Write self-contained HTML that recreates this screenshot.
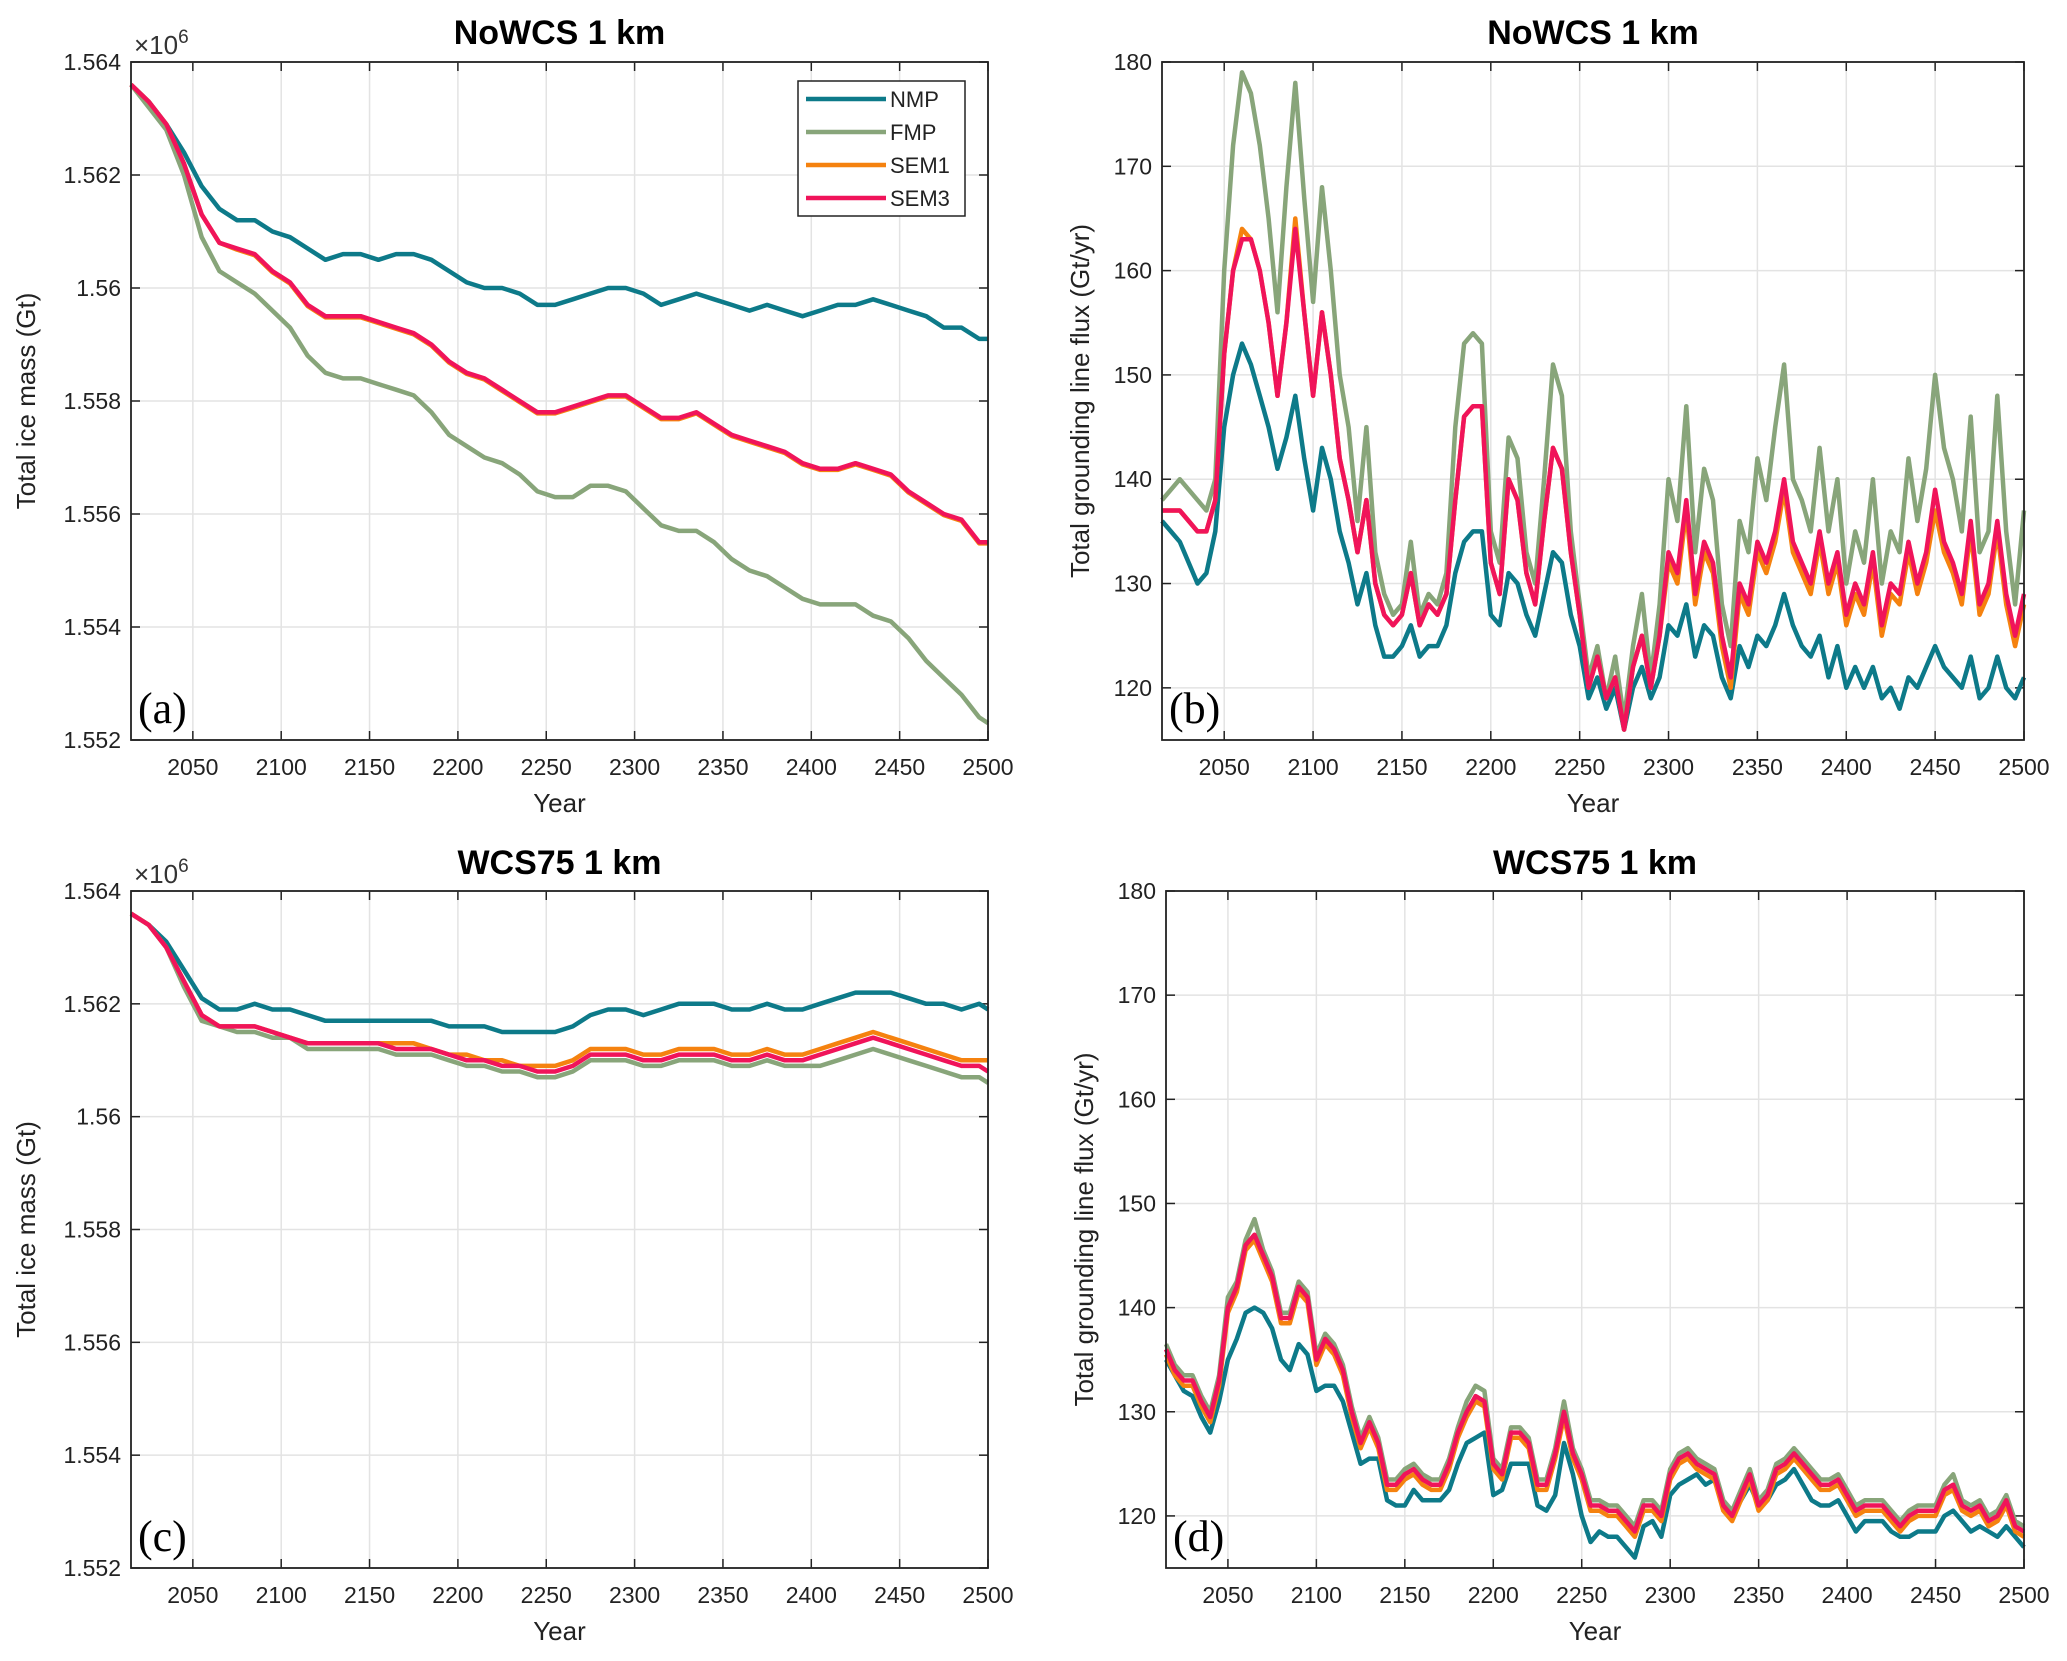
<!DOCTYPE html>
<html><head><meta charset="utf-8"><style>
body{margin:0;background:#fff}
svg{display:block;font-family:"Liberation Sans",sans-serif}
</style></head><body>
<svg id="fig" width="2067" height="1661" viewBox="0 0 2067 1661" xmlns="http://www.w3.org/2000/svg"></svg>
<script>
const yearsFlux=[];for(let y=2015;y<=2500;y+=5)yearsFlux.push(y);
const yearsMass=[];for(let y=2015;y<=2495;y+=10)yearsMass.push(y);yearsMass.push(2500);
const xTicks=[2050,2100,2150,2200,2250,2300,2350,2400,2450,2500];
const massTicks=[1.552,1.554,1.556,1.558,1.560,1.562,1.564];
const massTickLabels=["1.552","1.554","1.556","1.558","1.56","1.562","1.564"];
const fluxTicks=[120,130,140,150,160,170,180];
const fluxTickLabels=["120","130","140","150","160","170","180"];
const seriesNames=["NMP","FMP","SEM1","SEM3"];

const aNMP=[1.5636,1.5633,1.5629,1.5624,1.5618,1.5614,1.5612,1.5612,1.5610,1.5609,1.5607,1.5605,1.5606,1.5606,1.5605,1.5606,1.5606,1.5605,1.5603,1.5601,1.5600,1.5600,1.5599,1.5597,1.5597,1.5598,1.5599,1.5600,1.5600,1.5599,1.5597,1.5598,1.5599,1.5598,1.5597,1.5596,1.5597,1.5596,1.5595,1.5596,1.5597,1.5597,1.5598,1.5597,1.5596,1.5595,1.5593,1.5593,1.5591,1.5591];
const aFMP=[1.5636,1.5632,1.5628,1.5620,1.5609,1.5603,1.5601,1.5599,1.5596,1.5593,1.5588,1.5585,1.5584,1.5584,1.5583,1.5582,1.5581,1.5578,1.5574,1.5572,1.5570,1.5569,1.5567,1.5564,1.5563,1.5563,1.5565,1.5565,1.5564,1.5561,1.5558,1.5557,1.5557,1.5555,1.5552,1.5550,1.5549,1.5547,1.5545,1.5544,1.5544,1.5544,1.5542,1.5541,1.5538,1.5534,1.5531,1.5528,1.5524,1.5523];
const aSEM1=[1.5636,1.5633,1.5629,1.5622,1.5613,1.5608,1.56068,1.56058,1.56028,1.56008,1.55968,1.55948,1.55948,1.55948,1.55938,1.55928,1.55918,1.55898,1.55868,1.55848,1.55838,1.55818,1.55798,1.55778,1.55778,1.55788,1.55798,1.55808,1.55808,1.55788,1.55768,1.55768,1.55778,1.55758,1.55738,1.55728,1.55718,1.55708,1.55688,1.55678,1.55678,1.55688,1.55678,1.55668,1.55638,1.55618,1.55598,1.55588,1.55548,1.55548];
const aSEM3=[1.5636,1.5633,1.5629,1.5622,1.5613,1.5608,1.5607,1.5606,1.5603,1.5601,1.5597,1.5595,1.5595,1.5595,1.5594,1.5593,1.5592,1.5590,1.5587,1.5585,1.5584,1.5582,1.5580,1.5578,1.5578,1.5579,1.5580,1.5581,1.5581,1.5579,1.5577,1.5577,1.5578,1.5576,1.5574,1.5573,1.5572,1.5571,1.5569,1.5568,1.5568,1.5569,1.5568,1.5567,1.5564,1.5562,1.5560,1.5559,1.5555,1.5555];

const cNMP=[1.5636,1.5634,1.5631,1.5626,1.5621,1.5619,1.5619,1.5620,1.5619,1.5619,1.5618,1.5617,1.5617,1.5617,1.5617,1.5617,1.5617,1.5617,1.5616,1.5616,1.5616,1.5615,1.5615,1.5615,1.5615,1.5616,1.5618,1.5619,1.5619,1.5618,1.5619,1.5620,1.5620,1.5620,1.5619,1.5619,1.5620,1.5619,1.5619,1.5620,1.5621,1.5622,1.5622,1.5622,1.5621,1.5620,1.5620,1.5619,1.5620,1.5619];
const cSEM1=[1.5636,1.5634,1.5630,1.5624,1.5618,1.5616,1.5616,1.5616,1.5615,1.5614,1.5613,1.5613,1.5613,1.5613,1.5613,1.5613,1.5613,1.5612,1.5611,1.5611,1.5610,1.5610,1.5609,1.5609,1.5609,1.5610,1.5612,1.5612,1.5612,1.5611,1.5611,1.5612,1.5612,1.5612,1.5611,1.5611,1.5612,1.5611,1.5611,1.5612,1.5613,1.5614,1.5615,1.5614,1.5613,1.5612,1.5611,1.5610,1.5610,1.5610];
const cSEM3=[1.5636,1.5634,1.5630,1.5624,1.5618,1.5616,1.5616,1.5616,1.5615,1.5614,1.5613,1.5613,1.5613,1.5613,1.5613,1.5612,1.5612,1.5612,1.5611,1.5610,1.5610,1.5609,1.5609,1.5608,1.5608,1.5609,1.5611,1.5611,1.5611,1.5610,1.5610,1.5611,1.5611,1.5611,1.5610,1.5610,1.5611,1.5610,1.5610,1.5611,1.5612,1.5613,1.5614,1.5613,1.5612,1.5611,1.5610,1.5609,1.5609,1.5608];
const cFMP=[1.5636,1.5634,1.5630,1.5623,1.5617,1.5616,1.5615,1.5615,1.5614,1.5614,1.5612,1.5612,1.5612,1.5612,1.5612,1.5611,1.5611,1.5611,1.5610,1.5609,1.5609,1.5608,1.5608,1.5607,1.5607,1.5608,1.5610,1.5610,1.5610,1.5609,1.5609,1.5610,1.5610,1.5610,1.5609,1.5609,1.5610,1.5609,1.5609,1.5609,1.5610,1.5611,1.5612,1.5611,1.5610,1.5609,1.5608,1.5607,1.5607,1.5606];

const bNMP=[136,135,134,132,130,131,135,145,150,153,151,148,145,141,144,148,142,137,143,140,135,132,128,131,126,123,123,124,126,123,124,124,126,131,134,135,135,127,126,131,130,127,125,129,133,132,127,124,119,121,118,120,116,120,122,119,121,126,125,128,123,126,125,121,119,124,122,125,124,126,129,126,124,123,125,121,124,120,122,120,122,119,120,118,121,120,122,124,122,121,120,123,119,120,123,120,119,121];
const bFMP=[138,139,140,139,138,137,140,160,172,179,177,172,165,156,168,178,167,157,168,160,150,145,136,145,133,129,127,128,134,127,129,128,131,145,153,154,153,135,132,144,142,133,130,140,151,148,135,128,121,124,119,123,117,124,129,121,128,140,136,147,133,141,138,128,124,136,133,142,138,145,151,140,138,135,143,135,140,130,135,132,140,130,135,133,142,136,141,150,143,140,135,146,133,135,148,135,128,137];
const bSEM1=[137,137,137,136,135,135,138,152,160,164,163,160,155,148,155,165,156,148,156,150,142,138,133,138,130,127,126,127,131,126,128,127,129,138,146,147,147,132,129,140,138,131,128,136,143,141,133,127,120,123,119,121,116,122,125,120,125,132,130,137,128,133,131,124,120,129,127,133,131,134,139,133,131,129,134,129,132,126,129,127,132,125,129,128,133,129,132,137,133,131,128,135,127,129,135,128,124,128];
const bSEM3=[137,137,137,136,135,135,138,152,160,163,163,160,155,148,155,164,156,148,156,150,142,138,133,138,130,127,126,127,131,126,128,127,129,138,146,147,147,132,129,140,138,131,128,136,143,141,133,127,120,123,119,121,116,122,125,120,125,133,131,138,129,134,132,125,121,130,128,134,132,135,140,134,132,130,135,130,133,127,130,128,133,126,130,129,134,130,133,139,134,132,129,136,128,130,136,129,125,129];

const dNMP=[135,133.5,132,131.5,129.5,128,131,135,137,139.5,140,139.5,138,135,134,136.5,135.5,132,132.5,132.5,131,128,125,125.5,125.5,121.5,121,121,122.5,121.5,121.5,121.5,122.5,125,127,127.5,128,122,122.5,125,125,125,121,120.5,122,127,124,120,117.5,118.5,118,118,117,116,119,119.5,118,122,123,123.5,124,123,123.5,121,120,121.5,123,121,121.5,123,123.5,124.5,123,121.5,121,121,121.5,120,118.5,119.5,119.5,119.5,118.5,118,118,118.5,118.5,118.5,120,120.5,119.5,118.5,119,118.5,118,119,118,117];
const dFMP=[136.5,134.5,133.5,133.5,131.5,130,133.5,141,142.5,146.5,148.5,145.5,143.5,139.5,139.5,142.5,141.5,135.5,137.5,136.5,134.5,130.5,127.5,129.5,127.5,123.5,123.5,124.5,125,124,123.5,123.5,125.5,128.5,131,132.5,132,125.5,124.5,128.5,128.5,127.5,123.5,123.5,126.5,131,126.5,124.5,121.5,121.5,121,121,120,119,121.5,121.5,120.5,124.5,126,126.5,125.5,125,124.5,121.5,120.5,122.5,124.5,121.5,122.5,125,125.5,126.5,125.5,124.5,123.5,123.5,124,122.5,121,121.5,121.5,121.5,120.5,119.5,120.5,121,121,121,123,124,121.5,121,121.5,120,120.5,122,119.5,119];
const dSEM1=[135.5,133.5,132.5,132.5,130.5,129,132.5,139.5,141.5,145.5,146.5,144.5,142.5,138.5,138.5,141.5,140.5,134.5,136.5,135.5,133.5,129.5,126.5,128.5,126.5,122.5,122.5,123.5,124,123,122.5,122.5,124.5,127.5,129.5,131,130.5,124.5,123.5,127.5,127.5,126.5,122.5,122.5,125.5,129.5,125.5,123.5,120.5,120.5,120,120,119,118,120.5,120.5,119.5,123.5,125,125.5,124.5,124,123.5,120.5,119.5,121.5,123.5,120.5,121.5,124,124.5,125.5,124.5,123.5,122.5,122.5,123,121.5,120,120.5,120.5,120.5,119.5,118.5,119.5,120,120,120,122,122.5,120.5,120,120.5,119,119.5,121,118.5,118];
const dSEM3=[136,134,133,133,131,129.5,133,140,142,146,147,145,143,139,139,142,141,135,137,136,134,130,127,129,127,123,123,124,124.5,123.5,123,123,125,128,130,131.5,131,125,124,128,128,127,123,123,126,130,126,124,121,121,120.5,120.5,119.5,118.5,121,121,120,124,125.5,126,125,124.5,124,121,120,122,124,121,122,124.5,125,126,125,124,123,123,123.5,122,120.5,121,121,121,120,119,120,120.5,120.5,120.5,122.5,123,121,120.5,121,119.5,120,121.5,119,118.5];

const colors={NMP:"#0d7a89",FMP:"#88a57a",SEM1:"#f5820f",SEM3:"#f0145a"};
const NS="http://www.w3.org/2000/svg";
const svg=document.getElementById('fig');
function el(tag,attrs,parent,text){const e=document.createElementNS(NS,tag);for(const k in attrs)e.setAttribute(k,attrs[k]);if(text!==undefined)e.textContent=text;(parent||svg).appendChild(e);return e;}

const panels=[
 {id:"a",x0:131,x1:988,y0:62,y1:740,min:1.552,max:1.564,ticks:massTicks,labels:massTickLabels,title:"NoWCS 1 km",ylab:"Total ice mass (Gt)",years:yearsMass,data:[aNMP,aFMP,aSEM1,aSEM3],exp:true,legend:true},
 {id:"b",x0:1162,x1:2024,y0:62,y1:740,min:115,max:180,ticks:fluxTicks,labels:fluxTickLabels,title:"NoWCS 1 km",ylab:"Total grounding line flux (Gt/yr)",years:yearsFlux,data:[bNMP,bFMP,bSEM1,bSEM3]},
 {id:"c",x0:131,x1:988,y0:891,y1:1568,min:1.552,max:1.564,ticks:massTicks,labels:massTickLabels,title:"WCS75 1 km",ylab:"Total ice mass (Gt)",years:yearsMass,data:[cNMP,cFMP,cSEM1,cSEM3],exp:true},
 {id:"d",x0:1166,x1:2024,y0:891,y1:1568,min:115,max:180,ticks:fluxTicks,labels:fluxTickLabels,title:"WCS75 1 km",ylab:"Total grounding line flux (Gt/yr)",years:yearsFlux,data:[dNMP,dFMP,dSEM1,dSEM3]}
];

panels.forEach(p=>{
 const g=el('g',{});
 
 
 const xs=v=>p.x0+(v-2015)/(2500-2015)*(p.x1-p.x0);
 const ys=v=>p.y1-(v-p.min)/(p.max-p.min)*(p.y1-p.y0);
 xTicks.forEach(t=>{
  const l=el('line',{x1:xs(t),x2:xs(t),y1:p.y0,y2:p.y1,stroke:"#e3e3e3","stroke-width":1.5},g);
  
  el('line',{x1:xs(t),x2:xs(t),y1:p.y1,y2:p.y1-9,stroke:"#222","stroke-width":1.5},g);
  el('line',{x1:xs(t),x2:xs(t),y1:p.y0,y2:p.y0+9,stroke:"#222","stroke-width":1.5},g);
  const tx=el('text',{x:xs(t),y:p.y1+35,"font-size":23,"text-anchor":"middle",fill:"#222"},g,String(t));
  
 });
 p.ticks.forEach((t,i)=>{
  const l=el('line',{x1:p.x0,x2:p.x1,y1:ys(t),y2:ys(t),stroke:"#e3e3e3","stroke-width":1.5},g);
  
  el('line',{x1:p.x0,x2:p.x0+9,y1:ys(t),y2:ys(t),stroke:"#222","stroke-width":1.5},g);
  el('line',{x1:p.x1,x2:p.x1-9,y1:ys(t),y2:ys(t),stroke:"#222","stroke-width":1.5},g);
  const tx=el('text',{x:p.x0-10,y:ys(t)+8,"font-size":23,"text-anchor":"end",fill:"#222"},g,p.labels[i]);
  
 });
 p.data.forEach((arr,si)=>{
  const name=seriesNames[si];
  const d=arr.map((v,i)=>(i?'L':'M')+xs(p.years[i]).toFixed(1)+' '+ys(v).toFixed(1)).join(' ');
  const path=el('path',{d:d,fill:"none",stroke:colors[name],"stroke-width":4.5,"stroke-linejoin":"round"},g);
  
  
 });
 const box=el('rect',{x:p.x0,y:p.y0,width:p.x1-p.x0,height:p.y1-p.y0,fill:"none",stroke:"#222","stroke-width":1.8},g);
 
 const ti=el('text',{x:(p.x0+p.x1)/2,y:44,"font-size":34,"font-weight":"bold","text-anchor":"middle",fill:"#000"},g,p.title);
 if(p.y0>500)ti.setAttribute('y',p.y0-17);
 
 const xl=el('text',{x:(p.x0+p.x1)/2,y:p.y1+72,"font-size":26,"text-anchor":"middle",fill:"#222"},g,"Year");
 
 const lx=p.exp?p.x0-96:p.x0-73;const ly=(p.y0+p.y1)/2;
 const yl=el('text',{x:lx,y:ly,"font-size":26,"text-anchor":"middle",fill:"#222",transform:`rotate(-90 ${lx} ${ly})`},g,p.ylab);
 
 const lt=el('text',{x:p.x0+7,y:p.y1-17,"font-size":44,"font-family":"Liberation Serif, serif",fill:"#000"},g,"("+p.id+")");
 
 if(p.exp){
  const e=el('text',{x:p.x0+3,y:p.y0-8,"font-size":26,fill:"#333"},g);
  
  e.innerHTML='×10<tspan dy="-11" font-size="19">6</tspan>';
 }
 if(p.legend){
  const lg=el('g',{},g);
  
  el('rect',{x:798,y:81,width:167,height:135,fill:"#fff",stroke:"#222","stroke-width":1.5},lg);
  seriesNames.forEach((n,i)=>{
   const yy=99+i*33;
   const ln=el('line',{x1:806,x2:886,y1:yy,y2:yy,stroke:colors[n],"stroke-width":4.5},lg);
   
   const t=el('text',{x:890,y:yy+8,"font-size":22,fill:"#222"},lg,n);
   
  });
 }
});
</script>
</body></html>
